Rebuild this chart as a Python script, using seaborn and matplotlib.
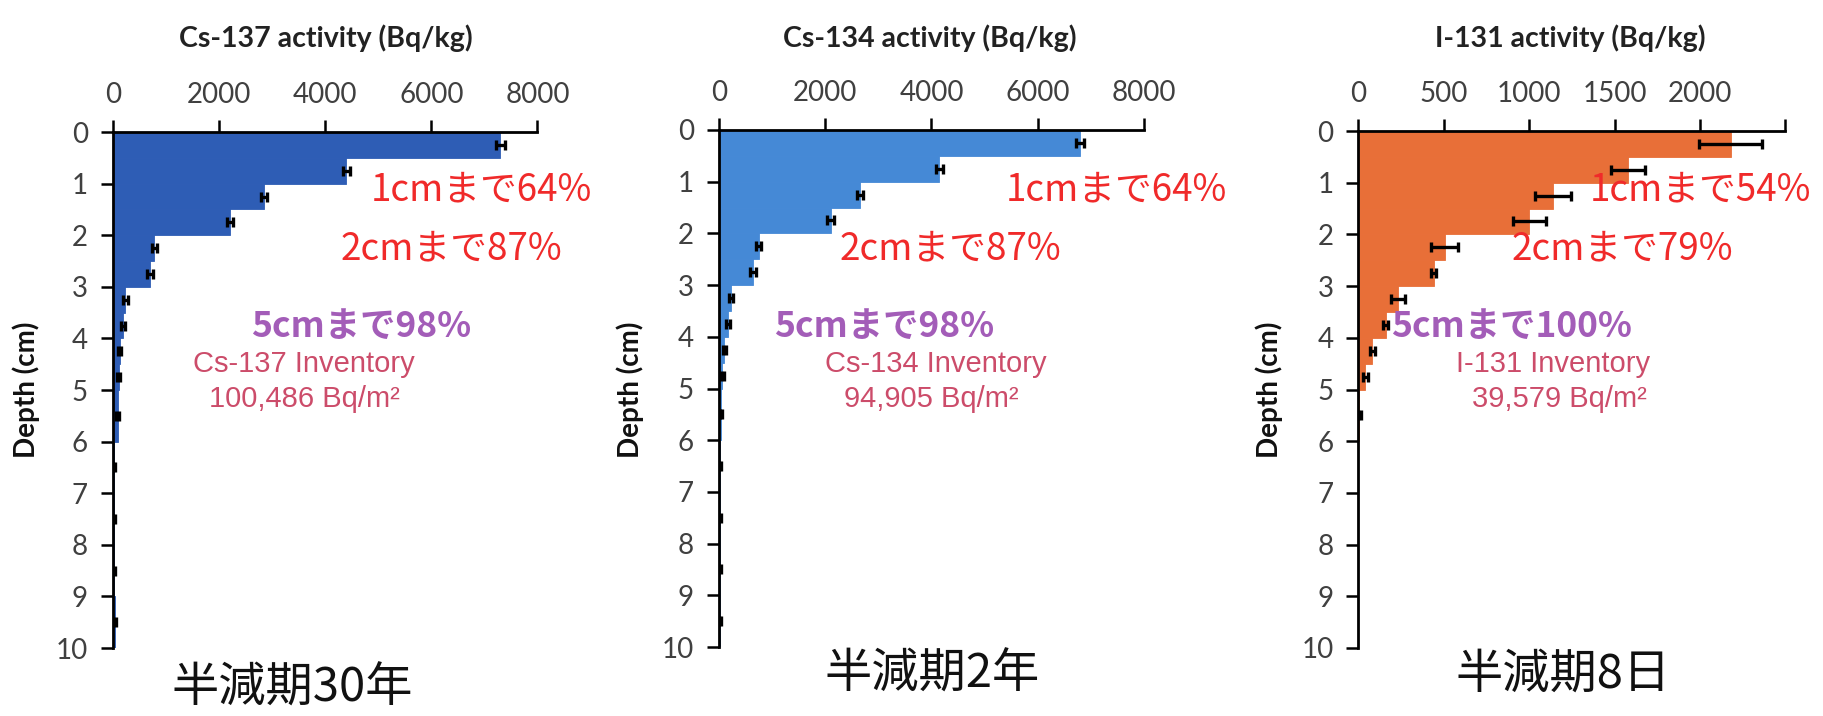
import numpy as np
import pandas as pd
import matplotlib
matplotlib.use("Agg")
import matplotlib.pyplot as plt
import seaborn as sns

# ---------------- data ----------------
depth_edges = [0, 0.5, 1, 1.5, 2, 2.5, 3, 3.5, 4, 4.5, 5, 6, 7, 8, 9, 10]
depth_ticks = [0, 1, 2, 3, 4, 5, 6, 7, 8, 9, 10]

cs137 = [7300, 4400, 2850, 2200, 780, 700, 235, 190, 130, 110, 90, 20, 15, 10, 30]
cs137_err = [90, 70, 60, 60, 50, 50, 40, 40, 30, 30, 30, 20, 20, 20, 30]

cs134 = [6800, 4150, 2650, 2100, 750, 640, 230, 170, 100, 60, 40, 20, 10, 10, 15]
cs134_err = [80, 70, 60, 60, 50, 50, 40, 40, 30, 30, 20, 20, 20, 20, 20]

i131 = [2180, 1580, 1140, 1000, 505, 440, 230, 160, 80, 40, 5, 0, 0, 0, 0]
i131_err = [185, 100, 105, 98, 80, 15, 40, 15, 15, 15, 10, 0, 0, 0, 0]

cs_xticks = [0, 2000, 4000, 6000, 8000]
i_xticks = [0, 500, 1000, 1500, 2000, 2500]
i_xticklabels = ["0", "500", "1000", "1500", "2000", ""]

titles = ["Cs-137 activity (Bq/kg)", "Cs-134 activity (Bq/kg)", "I-131 activity (Bq/kg)"]
pct1 = ["1cmまで64%", "1cmまで64%", "1cmまで54%"]
pct2 = ["2cmまで87%", "2cmまで87%", "2cmまで79%"]
pct5 = ["5cmまで98%", "5cmまで98%", "5cmまで100%"]
inv_name = ["Cs-137 Inventory", "Cs-134 Inventory", "I-131 Inventory"]
inv_value = ["100,486 Bq/m²", "94,905 Bq/m²", "39,579 Bq/m²"]
half_life = ["半減期30年", "半減期2年", "半減期8日"]

colors = ["#2E5DB5", "#4589D6", "#E86F38"]

# ---------------- style ----------------
sns.set_theme(style="white")
plt.rcParams["font.family"] = ["Lato", "DejaVu Sans"]

W, H = 1824, 716
fig = plt.figure(figsize=(W / 100, H / 100), dpi=100)
fig.patch.set_facecolor("white")

def ax_rect(l, r, t, b):
    return [l / W, 1 - b / H, (r - l) / W, (b - t) / H]

def ftext(x, y, s, **kw):
    fig.text(x / W, 1 - y / H, s, ha="center", va="center", **kw)

rects = [(113, 537.5, 132, 648), (719, 1144, 130, 647), (1358.5, 1785.5, 131, 648)]
series = [(cs137, cs137_err), (cs134, cs134_err), (i131, i131_err)]
xlims = [8000, 8000, 2500]

edges = np.array(depth_edges, dtype=float)
centers = (edges[:-1] + edges[1:]) / 2

cjk = ["Noto Sans CJK JP", "DejaVu Sans"]
arial = ["Liberation Sans", "DejaVu Sans"]

for k in range(3):
    ax = fig.add_axes(ax_rect(*rects[k]))
    vals, errs = series[k]
    vals = np.array(vals, dtype=float)
    errs = np.array(errs, dtype=float)
    df = pd.DataFrame({"depth": centers, "activity": vals})
    sns.histplot(data=df, y="depth", weights="activity", bins=list(depth_edges), ax=ax,
                 color=colors[k], alpha=1, edgecolor=colors[k], linewidth=0.6,
                 element="bars")
    m = vals > 0
    ax.errorbar(vals[m], centers[m], xerr=errs[m], fmt="none", ecolor="black",
                elinewidth=2.4, capsize=3.5, capthick=2.4, zorder=5)
    ax.set_xlim(0, xlims[k])
    ax.set_ylim(10, 0)
    ax.set_yticks(depth_ticks)
    if k < 2:
        ax.set_xticks(cs_xticks)
    else:
        ax.set_xticks(i_xticks)
        ax.set_xticklabels(i_xticklabels)
    ax.xaxis.tick_top()
    ax.set_xlabel("")
    ax.set_ylabel("")
    for s in ["bottom", "right"]:
        ax.spines[s].set_visible(False)
    for s in ["top", "left"]:
        ax.spines[s].set_color("black")
        ax.spines[s].set_linewidth(2)
    ax.tick_params(axis="both", which="major", direction="out", length=9, width=1.8,
                   color="black", labelsize=20, labelcolor="#404040")
    ax.tick_params(axis="x", pad=8, top=True, bottom=False)
    ax.tick_params(axis="y", pad=9, left=True)
    ax.set_facecolor("white")
    ax.grid(False)

# titles and axis labels
for x, t in zip([326, 930, 1570], titles):
    ftext(x, 38, t, fontsize=20.5, fontweight="bold", color="#222222")
for x in [26, 630, 1269]:
    ftext(x, 390, "Depth (cm)", fontsize=20, fontweight="bold", color="#111111", rotation=90)

# percentage annotations
for x, s in zip([481, 1116, 1700], pct1):
    ftext(x, 190, s, fontsize=26.5, color="#F02A2A", family=cjk)
for x, s in zip([451, 950, 1622], pct2):
    ftext(x, 249, s, fontsize=26.5, color="#F02A2A", family=cjk)
for x, s in zip([361, 884, 1512], pct5):
    ftext(x, 326, s, fontsize=25.5, color="#A35DB8", fontweight="bold", family=cjk)

# inventory text
for x, s in zip([304, 936, 1553], inv_name):
    ftext(x, 364, s, fontsize=21, color="#CC4C6A", family=arial)
for x, s in zip([304, 931, 1559], inv_value):
    ftext(x, 399, s, fontsize=21, color="#CC4C6A", family=arial)

# half-life captions
for x, y, s in zip([292, 932, 1563], [688, 674, 674], half_life):
    ftext(x, y, s, fontsize=34, color="#111111", family=cjk)

fig.savefig("out.png", dpi=100, facecolor="white")
